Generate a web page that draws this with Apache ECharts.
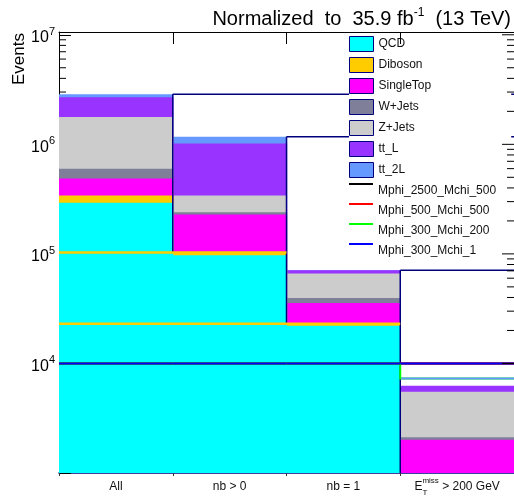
<!DOCTYPE html>
<html><head><meta charset="utf-8">
<script src="https://cdn.jsdelivr.net/npm/echarts@6/dist/echarts.min.js"></script>
<style>html,body{margin:0;padding:0;background:#fff}#c{width:514px;height:499px}</style>
</head><body><div id="c"></div>
<script>
const FONT = '"Liberation Sans", Arial, Helvetica, sans-serif';

// ---- data ----
const categories = ['All', 'nb > 0', 'nb = 1', 'MET > 200 GeV'];
const QCD       = [292600,  97100, 22110,  400];
const Diboson   = [ 48600,   5700,   960,   60];
const SingleTop = [146800, 125900, 12580, 1549];
const WJets     = [110000,  11300,  3970,  115];
const ZJets     = [1175000, 101200, 26450, 3386];
const ttL       = [911000, 678000,  4730,  745];
const tt2L      = [174000, 154000,   250, 1035];
const sigMphi2500Mchi500 = [10000, 10000, 10000, 10000];
const sigMphi500Mchi500  = [10000, 10000, 10000, 10000];
const sigMphi300Mchi200  = [10000, 10000, 10000, 7290];
const sigMphi300Mchi1    = [10000, 10000, 10000, 10000];
const yMajorTicks = [1e4, 1e5, 1e6, 1e7];
const yMin = 1000, yMax = 1.06e7;

const bkgNames  = ['QCD', 'Diboson', 'SingleTop', 'W+Jets', 'Z+Jets', 'tt_L', 'tt_2L'];
const bkgValues = [QCD, Diboson, SingleTop, WJets, ZJets, ttL, tt2L];
const bkgColors = ['#00ffff', '#ffcc00', '#ff00ff', '#7f7f9a', '#cccccc', '#9933ff', '#6699ff'];
const sigNames  = ['Mphi_2500_Mchi_500', 'Mphi_500_Mchi_500', 'Mphi_300_Mchi_200', 'Mphi_300_Mchi_1'];
const sigValues = [sigMphi2500Mchi500, sigMphi500Mchi500, sigMphi300Mchi200, sigMphi300Mchi1];
const sigColors = ['#000000', '#ff0000', '#00ff00', '#0000ff'];
const NAVY = '#00007f';

// cumulative stacks
const nBins = categories.length;
const cum = [];
bkgValues.forEach((arr, i) => {
  cum.push(arr.map((v, k) => v + (i > 0 ? cum[i - 1][k] : 0)));
});
const total = cum[cum.length - 1];
const cumQD = cum[1];

// minor tick values (decoration)
const minorTicks = [];
for (let e = 3; e <= 6; e++) for (let m = 2; m <= 9; m++) minorTicks.push(m * Math.pow(10, e));
const rightTicks = minorTicks.filter(v => v >= 1e4).concat(yMajorTicks);

const chart = echarts.init(document.getElementById('c'), null, {renderer: 'canvas'});

const series = [];
// left minor ticks (under bars)
series.push({
  type: 'custom', name: '_lt', coordinateSystem: 'cartesian2d', z: 1, silent: true,
  data: minorTicks.map(v => [0, v]),
  renderItem(params, api) {
    const cs = params.coordSys;
    const y = api.coord([0, api.value(1)])[1];
    if (y < cs.y || y > cs.y + cs.height) return null;
    return {type: 'line', shape: {x1: cs.x, y1: y, x2: cs.x + 7, y2: y}, style: {stroke: '#000', lineWidth: 1}};
  }
});
// stacked backgrounds drawn overlapping, largest first
for (let i = bkgNames.length - 1; i >= 0; i--) {
  series.push({
    type: 'bar', name: bkgNames[i], barWidth: 115, barGap: '-100%', z: 2, clip: true,
    itemStyle: {color: bkgColors[i]},
    data: cum[i].map((v, k) => (i === bkgNames.length - 1 && k === nBins - 1)
      ? {value: v, itemStyle: {color: '#ffffff'}} : v),
    animation: false
  });
}
// outline overlay
series.push({
  type: 'custom', name: '_outline', coordinateSystem: 'cartesian2d', z: 3, silent: true,
  data: categories.map((c, k) => [k, total[k]]),
  renderItem(params, api) {
    const k = params.dataIndex, cs = params.coordSys;
    const bottom = cs.y + cs.height, right = cs.x + cs.width;
    const yOf = v => Math.min(api.coord([k, v])[1], bottom);
    const bw = api.size([1, 0])[0];
    const xr = api.coord([k, total[k]])[0] + bw / 2;
    const ch = [];
    if (k < nBins - 1) {
      const yT = yOf(total[k]);
      const yQ = yOf(cumQD[k + 1]);
      ch.push({type: 'line', shape: {x1: xr, y1: yT, x2: right, y2: yT}, style: {stroke: NAVY, lineWidth: 1.5}});
      ch.push({type: 'line', shape: {x1: xr, y1: yT, x2: xr, y2: yQ}, style: {stroke: NAVY, lineWidth: 1.5}});
    }
    if (k > 0 && cumQD[k] > yMin) {
      const yq = yOf(cumQD[k]);
      ch.push({type: 'line', shape: {x1: cs.x, y1: yq, x2: xr, y2: yq}, style: {stroke: bkgColors[1], lineWidth: 2.5}});
    }
    return {type: 'group', children: ch};
  }
});
// signals as step histograms
sigNames.forEach((nm, s) => {
  const vals = sigValues[s];
  series.push({
    type: 'custom', name: nm, coordinateSystem: 'cartesian2d', z: 3,
    itemStyle: {color: sigColors[s]},
    data: vals.map((v, k) => [k, v]),
    renderItem(params, api) {
      const k = params.dataIndex;
      const bw = api.size([1, 0])[0];
      const p = api.coord([k, vals[k]]);
      const xl = p[0] - bw / 2, xr = p[0] + bw / 2;
      const pts = [];
      if (k > 0) pts.push([xl, api.coord([k, vals[k - 1]])[1]]);
      pts.push([xl, p[1]], [xr, p[1]]);
      return {type: 'polyline', shape: {points: pts}, style: {stroke: sigColors[s], lineWidth: 2, fill: null}};
    }
  });
});
// tt_2L top edge in the last bin
series.push({
  type: 'custom', name: '_tttop', coordinateSystem: 'cartesian2d', z: 3, silent: true,
  data: [[nBins - 1, total[nBins - 1]]],
  renderItem(params, api) {
    const bw = api.size([1, 0])[0];
    const p = api.coord([api.value(0), api.value(1)]);
    return {type: 'line', shape: {x1: p[0] - bw / 2 + 1, y1: p[1], x2: p[0] + bw / 2, y2: p[1]}, style: {stroke: bkgColors[6], lineWidth: 2}};
  }
});
// right-side ticks (over legend)
series.push({
  type: 'custom', name: '_rt', coordinateSystem: 'cartesian2d', z: 6, silent: true,
  data: rightTicks.map(v => [0, v]),
  renderItem(params, api) {
    const cs = params.coordSys;
    const v = api.value(1);
    const y = api.coord([0, v])[1];
    const major = yMajorTicks.indexOf(v) >= 0;
    const r = cs.x + cs.width;
    return {type: 'line', shape: {x1: r - (major ? 12 : 7), y1: y, x2: r, y2: y}, style: {stroke: '#000', lineWidth: 1}};
  }
});

const lab = {fontSize: 12, fontFamily: FONT, lineHeight: 20, color: '#111', align: 'left', verticalAlign: 'middle'};
const option = {
  animation: false,
  backgroundColor: '#fff',
  textStyle: {fontFamily: FONT},
  title: {
    text: '{a|Normalized  to  35.9 fb}{s|-1}{a|  (13 TeV)}',
    right: -2, top: 2,
    textStyle: {
      fontWeight: 'normal',
      rich: {
        a: {fontSize: 20, fontFamily: FONT, fontWeight: 'normal', color: '#000', lineHeight: 22, verticalAlign: 'bottom'},
        s: {fontSize: 12, fontFamily: FONT, fontWeight: 'normal', color: '#000', lineHeight: 14, verticalAlign: 'top'}
      }
    }
  },
  grid: {left: 59, top: 32, width: 456, height: 441, containLabel: false},
  xAxis: [{
    type: 'category', data: categories, position: 'bottom',
    axisLine: {lineStyle: {color: NAVY, width: 1.5}},
    axisTick: {show: true, length: 3, lineStyle: {color: '#333'}},
    axisLabel: {
      margin: 4, color: '#000', interval: 0,
      formatter: (v, i) => i === nBins - 1 ? '{e|E}{t|T}{m|miss}{r| > 200 GeV}' : '{n|' + v + '}',
      rich: {
        n: lab,
        e: lab,
        r: lab,
        t: {fontSize: 8, fontFamily: FONT, lineHeight: 10, verticalAlign: 'bottom', width: 0, align: 'left', color: '#111'},
        m: {fontSize: 8, fontFamily: FONT, lineHeight: 10, verticalAlign: 'top', align: 'left', color: '#111'}
      }
    },
    splitLine: {show: false}
  }, {
    type: 'category', data: categories, position: 'top', z: 6,
    axisLine: {lineStyle: {color: '#000', width: 1}},
    axisTick: {show: true, inside: true, length: 12, lineStyle: {color: '#000'}},
    axisLabel: {show: false}, splitLine: {show: false}
  }],
  yAxis: {
    type: 'log', min: yMin, max: yMax, logBase: 10,
    axisLine: {show: true, lineStyle: {color: '#000', width: 1}},
    axisTick: {show: true, inside: true, length: 12, lineStyle: {color: '#000'}},
    splitLine: {show: false},
    axisLabel: {
      margin: 4, color: '#000',
      formatter: v => {
        const e = Math.round(Math.log10(v));
        if (Math.abs(v / Math.pow(10, e) - 1) > 1e-6 || yMajorTicks.indexOf(Math.pow(10, e)) < 0) return '';
        return '{b|10}{s|' + e + '}';
      },
      rich: {
        b: {fontSize: 16, fontFamily: FONT, color: '#000', lineHeight: 18, padding: [6, 0, 0, 0]},
        s: {fontSize: 11, fontFamily: FONT, color: '#000', lineHeight: 18, padding: [0, 0, 6, 0]}
      }
    }
  },
  legend: [{
    orient: 'vertical', left: 349, top: 33, padding: [3, 80, 4, 0],
    itemWidth: 24, itemHeight: 15, itemGap: 5, icon: 'rect',
    backgroundColor: '#fff', selectedMode: false,
    itemStyle: {borderColor: NAVY, borderWidth: 1},
    textStyle: {fontSize: 12, fontFamily: FONT, color: '#111'},
    data: bkgNames
  }, {
    orient: 'vertical', left: 349, top: 183, padding: 0,
    itemWidth: 24, itemHeight: 16, itemGap: 4,
    icon: 'path://M0,0L24,0L24,2L0,2Z M0,16L0.01,16L0.01,16.01Z',
    selectedMode: false,
    textStyle: {fontSize: 12, fontFamily: FONT, color: '#111'},
    data: sigNames
  }],
  graphic: [{
    type: 'text', x: 19, y: 33, rotation: Math.PI / 2,
    style: {text: 'Events', fontSize: 17, fontFamily: FONT, fill: '#000', align: 'right', verticalAlign: 'middle'}
  }],
  series: series
};
chart.setOption(option);
</script>
</body></html>
